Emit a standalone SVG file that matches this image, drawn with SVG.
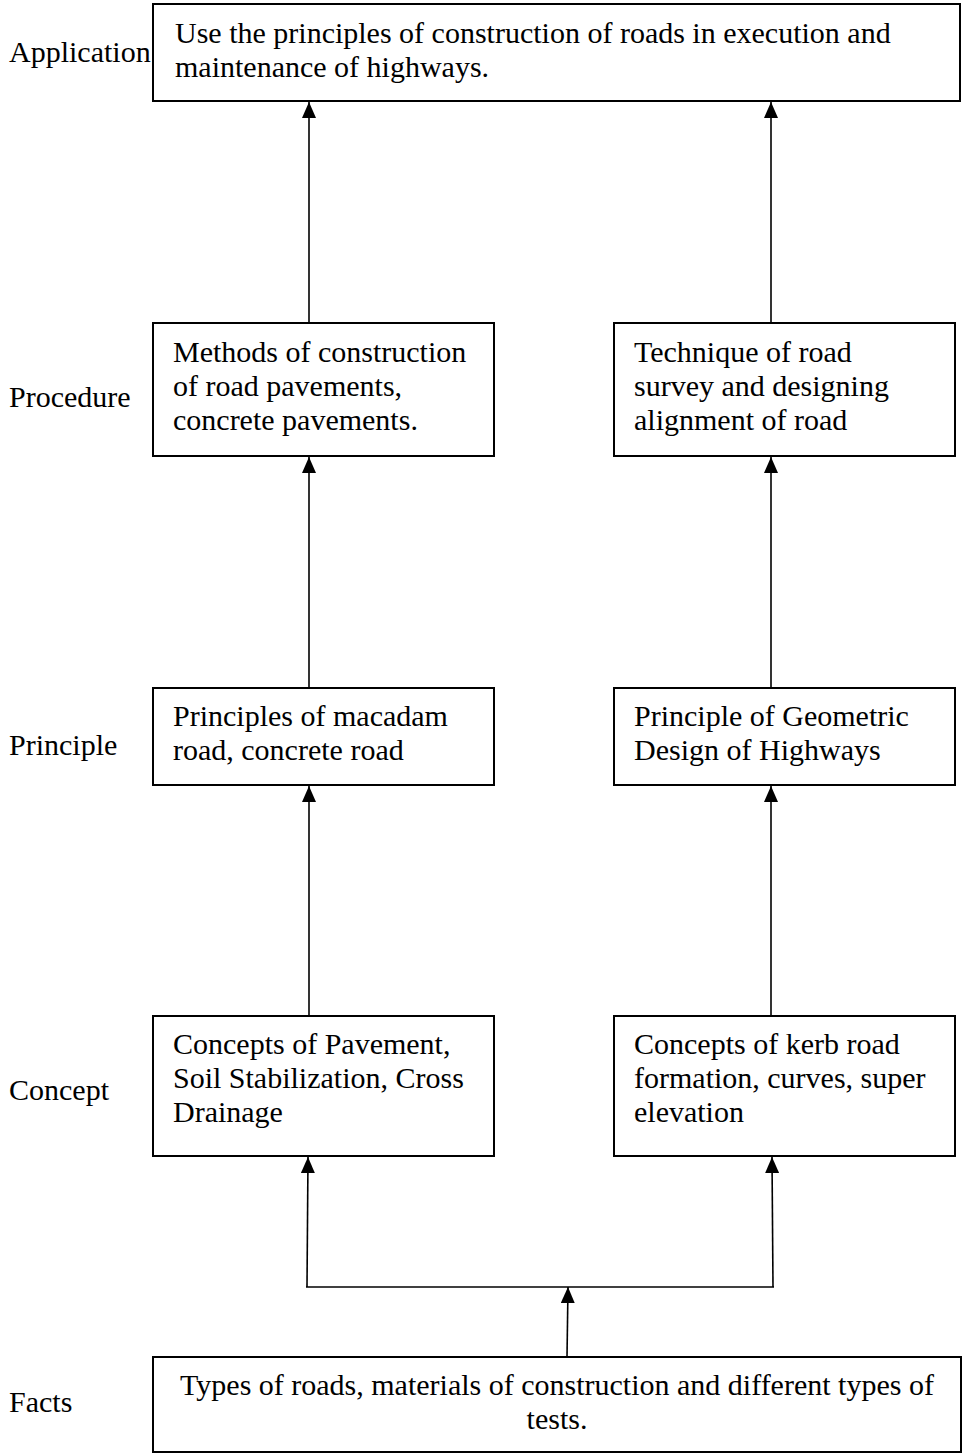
<svg xmlns="http://www.w3.org/2000/svg" width="963" height="1454" viewBox="0 0 963 1454">
  <style>
    .box { fill: #ffffff; stroke: #000000; stroke-width: 2; }
    .t { font-family: "Liberation Serif", "Times New Roman", serif; font-size: 30px; fill: #000000; }
    .c { text-anchor: middle; }
    .conn { stroke: #000000; stroke-width: 1.6; fill: none; }
  </style>
  <defs>
    <marker id="arr" markerUnits="userSpaceOnUse" markerWidth="16" markerHeight="14" viewBox="0 0 16 14" refX="16" refY="7" orient="auto">
      <path d="M0,0 L16,7 L0,14 z" fill="#000000"/>
    </marker>
  </defs>
  <rect width="963" height="1454" fill="#ffffff"/>

  <g id="labels">
    <text class="t" x="9" y="62">Application</text>
    <text class="t" x="9" y="407">Procedure</text>
    <text class="t" x="9" y="755">Principle</text>
    <text class="t" x="9" y="1100">Concept</text>
    <text class="t" x="9" y="1412">Facts</text>
  </g>

  <g id="connectors">
    <line class="conn" x1="309" y1="323" x2="309" y2="102" marker-end="url(#arr)"/>
    <line class="conn" x1="771" y1="323" x2="771" y2="102" marker-end="url(#arr)"/>
    <line class="conn" x1="309" y1="688" x2="309" y2="457" marker-end="url(#arr)"/>
    <line class="conn" x1="771" y1="688" x2="771" y2="457" marker-end="url(#arr)"/>
    <line class="conn" x1="309" y1="1016" x2="309" y2="786" marker-end="url(#arr)"/>
    <line class="conn" x1="771" y1="1016" x2="771" y2="786" marker-end="url(#arr)"/>
    <line class="conn" x1="307" y1="1287" x2="308" y2="1157" marker-end="url(#arr)"/>
    <line class="conn" x1="773" y1="1287" x2="772" y2="1157" marker-end="url(#arr)"/>
    <line class="conn" x1="306" y1="1287" x2="774" y2="1287"/>
    <line class="conn" x1="567" y1="1357" x2="568" y2="1287" marker-end="url(#arr)"/>
  </g>

  <g id="application">
    <rect class="box" x="153" y="4" width="807" height="97"/>
    <text class="t" x="175" y="43">Use the principles of construction of roads in execution and</text>
    <text class="t" x="175" y="77">maintenance of highways.</text>
  </g>

  <g id="procedure-left">
    <rect class="box" x="153" y="323" width="341" height="133"/>
    <text class="t" x="173" y="362">Methods of construction</text>
    <text class="t" x="173" y="396">of road pavements,</text>
    <text class="t" x="173" y="430">concrete pavements.</text>
  </g>

  <g id="procedure-right">
    <rect class="box" x="614" y="323" width="341" height="133"/>
    <text class="t" x="634" y="362">Technique of road</text>
    <text class="t" x="634" y="396">survey and designing</text>
    <text class="t" x="634" y="430">alignment of road</text>
  </g>

  <g id="principle-left">
    <rect class="box" x="153" y="688" width="341" height="97"/>
    <text class="t" x="173" y="726">Principles of macadam</text>
    <text class="t" x="173" y="760">road, concrete road</text>
  </g>

  <g id="principle-right">
    <rect class="box" x="614" y="688" width="341" height="97"/>
    <text class="t" x="634" y="726">Principle of Geometric</text>
    <text class="t" x="634" y="760">Design of Highways</text>
  </g>

  <g id="concept-left">
    <rect class="box" x="153" y="1016" width="341" height="140"/>
    <text class="t" x="173" y="1054">Concepts of Pavement,</text>
    <text class="t" x="173" y="1088">Soil Stabilization, Cross</text>
    <text class="t" x="173" y="1122">Drainage</text>
  </g>

  <g id="concept-right">
    <rect class="box" x="614" y="1016" width="341" height="140"/>
    <text class="t" x="634" y="1054">Concepts of kerb road</text>
    <text class="t" x="634" y="1088">formation, curves, super</text>
    <text class="t" x="634" y="1122">elevation</text>
  </g>

  <g id="facts">
    <rect class="box" x="153" y="1357" width="808" height="95"/>
    <text class="t c" x="557" y="1395">Types of roads, materials of construction and different types of</text>
    <text class="t c" x="557" y="1429">tests.</text>
  </g>
</svg>
